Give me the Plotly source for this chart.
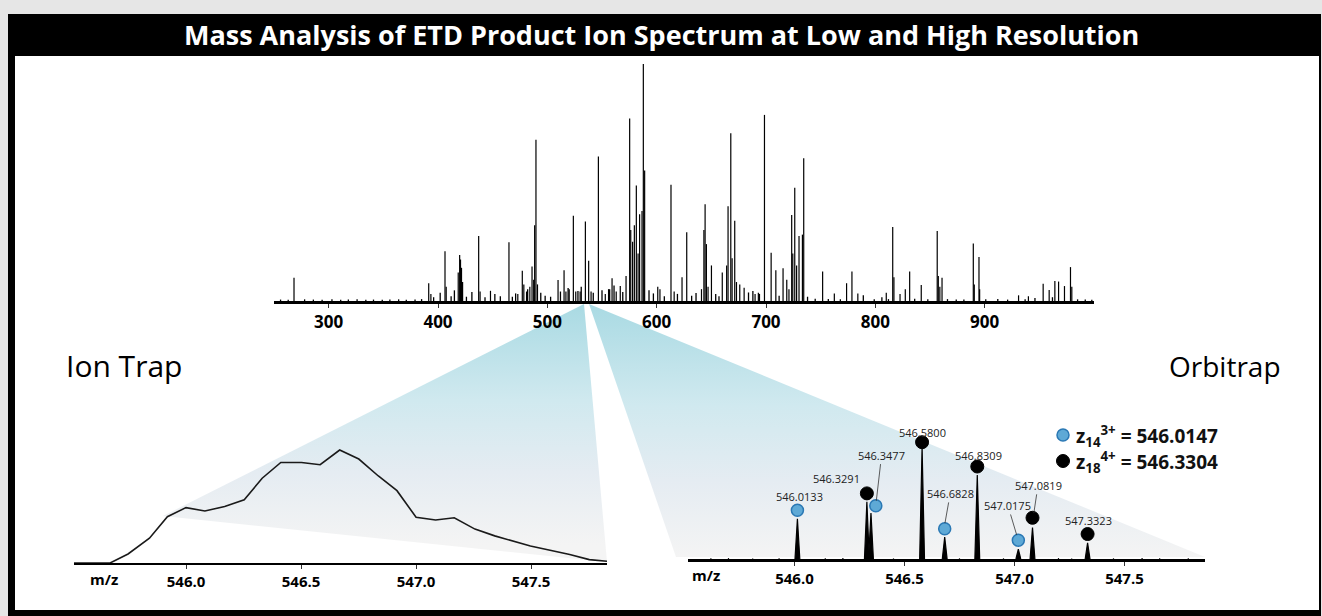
import plotly.graph_objects as go

W, H = 1322, 616

# ---------------- data ----------------
# full-scan ETD spectrum (top): m/z and relative intensity (%)
top_mz = [268.3, 391.5, 393.5, 406.4, 407.5, 418.5, 419.8, 420.6, 421.5, 422.5,
          437.2, 438.5, 448.0, 464.9, 473.0, 477.1, 478.5, 481.0, 484.0, 486.0,
          487.5, 488.4, 489.6, 491.0, 509.8, 515.3, 517.0, 520.0, 523.8, 526.0,
          530.0, 534.8, 537.8, 540.0, 546.7, 553.0, 556.0, 559.2, 563.0, 566.7,
          572.0, 575.3, 576.3, 578.0, 579.6, 581.4, 583.0, 584.4, 586.6, 587.8,
          589.0, 601.0, 603.0, 613.1, 616.0, 623.2, 627.5, 641.0, 643.2, 644.3,
          645.5, 647.0, 650.1, 660.0, 664.0, 665.3, 667.8, 669.0, 671.4, 673.0,
          676.0, 680.0, 690.0, 693.0, 698.6, 704.7, 709.0, 715.6, 719.0, 721.0,
          723.5, 724.5, 726.3, 728.0, 730.2, 733.3, 734.5, 751.8, 762.5, 773.7,
          778.6, 784.0, 810.0, 815.9, 817.0, 822.6, 827.4, 831.4, 842.0, 856.6,
          857.6, 859.0, 861.0, 889.6, 890.5, 894.8, 895.4, 931.0, 940.0, 953.5,
          959.0, 964.2, 967.6, 973.0, 978.5, 979.7]
top_int = [9.8, 7.5, 3.0, 21.0, 6.0, 12.0, 19.4, 17.5, 14.0, 8.0,
           27.4, 4.0, 4.3, 24.8, 3.0, 12.8, 7.0, 4.0, 6.0, 14.5,
           9.0, 32.0, 68.0, 7.0, 8.9, 13.0, 4.0, 5.0, 36.0, 4.0,
           4.0, 33.5, 17.0, 4.0, 61.0, 3.0, 5.0, 9.6, 4.0, 6.3,
           10.5, 77.0, 30.0, 25.0, 32.0, 48.7, 20.0, 36.6, 38.0, 100.0,
           55.0, 6.0, 5.0, 49.0, 4.0, 10.0, 29.0, 5.0, 30.0, 40.8,
           24.0, 6.0, 15.0, 12.0, 15.0, 40.0, 70.8, 18.0, 33.8, 8.0,
           7.0, 5.6, 3.0, 3.5, 78.5, 20.4, 13.0, 13.8, 9.0, 5.0,
           36.3, 20.0, 47.8, 15.0, 27.4, 28.0, 60.2, 12.4, 3.2, 7.5,
           12.4, 3.2, 3.5, 31.2, 10.0, 3.0, 5.0, 12.4, 6.8, 29.5,
           10.5, 6.0, 9.8, 24.3, 7.0, 18.6, 5.0, 2.4, 2.0, 7.3,
           4.6, 8.4, 8.2, 6.3, 14.3, 6.0]
# low-level baseline peaks of the full scan
noise_mz = [256, 263, 278, 286, 294, 303, 311, 318, 326, 334,
            341, 349, 356, 364, 371, 379, 385, 396, 402, 412,
            415, 426, 431, 443, 452, 457, 468, 471, 482, 494,
            498, 503, 512, 519, 528, 531, 542, 550, 557, 561,
            569, 593, 597, 607, 619, 632, 636, 654, 657, 684,
            688, 694, 712, 738, 745, 757, 768, 789, 799, 806,
            812, 836, 848, 866, 874, 881, 901, 912, 921, 937,
            946, 962, 985, 992, 998]
noise_int = [0.6, 0.5, 0.7, 0.6, 0.5, 0.7, 0.5, 0.6, 0.7, 0.5,
             0.6, 0.5, 0.6, 0.7, 0.5, 0.6, 0.8, 1.6, 3.5, 2.0,
             4.5, 1.8, 3.8, 1.6, 3.0, 2.0, 1.8, 3.2, 5.0, 3.5,
             2.2, 1.8, 4.0, 5.5, 4.2, 6.0, 3.5, 4.5, 5.0, 6.5,
             3.8, 4.5, 3.2, 2.0, 3.0, 2.2, 3.4, 3.0, 2.0, 3.6,
             4.2, 3.0, 2.2, 1.8, 1.0, 0.8, 0.7, 2.4, 0.7, 1.6,
             0.8, 1.0, 0.7, 0.8, 0.6, 0.6, 0.7, 0.8, 0.6, 0.7,
             1.3, 1.6, 0.7, 0.6, 0.5]
top_ticks = [300, 400, 500, 600, 700, 800, 900]

# ion trap (low resolution) profile
it_mz = [545.513, 545.670, 545.748, 545.841, 545.919, 546.000, 546.082, 546.168,
         546.253, 546.331, 546.412, 546.502, 546.583, 546.668, 546.751, 546.836,
         546.917, 547.000, 547.085, 547.166, 547.256, 547.342, 547.497, 547.668,
         547.753, 547.830]
it_int = [0, 0, 8, 22, 41, 49, 46, 50,
          56, 75, 89, 89, 87, 100, 92, 77,
          64, 40.5, 38, 40, 30, 24, 15, 7.5,
          3, 1.5]

# orbitrap (high resolution) centroids
orbi_mz = [546.0133, 546.3291, 546.3477, 546.5800, 546.6828, 546.8309,
           547.0175, 547.0819, 547.3323]
orbi_int = [36, 51, 41, 100, 19.5, 75, 8.7, 28, 14.5]
orbi_series = ["z14", "z18", "z14", "z18", "z14", "z18", "z14", "z18", "z18"]
orbi_marker_mz = [546.0133, 546.3291, 546.3697, 546.5800, 546.6828, 546.8309,
                  547.0175, 547.0819, 547.3323]
orbi_marker_y = [43.5, 58.6, 47.5, 104.3, 27, 82.6, 16.8, 36.8, 22.3]
orbi_label_x = [546.023, 546.190, 546.396, 546.580, 546.708, 546.836,
                546.970, 547.107, 547.336]
orbi_label_y = [55.7, 71.6, 92.8, 113.3, 58.6, 92.8, 47.8, 65.8, 34.8]
orbi_leader_to = [None, None, (546.372, 52), None, (546.684, 32), None,
                  (547.010, 21.5), (547.088, 41), None]
orbi_noise_mz = [545.62, 545.70, 545.81, 545.93, 546.14, 546.22, 546.45,
                 546.75, 546.95, 547.20, 547.26, 547.45, 547.58, 547.66, 547.79]
orbi_noise_int = [0.6, 0.8, 0.5, 0.7, 0.6, 0.8, 0.5, 0.6, 0.6, 0.8, 0.5, 0.6,
                  0.8, 0.6, 0.7]
bottom_ticks = [546.0, 546.5, 547.0, 547.5]

legend_items = [("z", "14", "3+", "546.0147", "z14"), ("z", "18", "4+", "546.3304", "z18")]

# ---------------- styling ----------------
FONT = "Open Sans"
BLUE = "#5ea9d6"
BLUE_EDGE = "#2a78b4"
series_style = {"z14": dict(color=BLUE, line=dict(color=BLUE_EDGE, width=1.5), size=12),
                "z18": dict(color="black", line=dict(color="black", width=1), size=13)}


def px(x):
    return x / W


def py(y):
    return 1 - y / H


fig = go.Figure()


# overlay canvas (pixel coordinates, y up) for the zoom fans
def fan(points, top_y, bottom_y):
    xs = [p[0] for p in points] + [points[0][0]]
    ys = [H - p[1] for p in points] + [H - points[0][1]]
    return go.Scatter(x=xs, y=ys, mode="lines", line=dict(width=0), fill="toself",
                      fillgradient=dict(type="vertical", start=H - bottom_y, stop=H - top_y,
                                        colorscale=[[0, "#f4f4f4"], [0.3, "#e5ecf2"],
                                                    [0.6, "#d0e9ef"], [1, "#a9dae3"]]),
                      hoverinfo="skip", showlegend=False, xaxis="x", yaxis="y")


fig.add_trace(fan([(584, 304), (163, 516), (607, 562)], 304, 545))
fig.add_trace(fan([(589, 304), (1205, 557), (676, 557)], 304, 557))


# top spectrum sticks
def sticks(mz, inten):
    xs, ys = [], []
    for m, v in zip(mz, inten):
        xs += [m, m, None]
        ys += [0, v, None]
    return xs, ys


nx, ny = sticks(noise_mz, noise_int)
fig.add_trace(go.Scatter(x=nx, y=ny, mode="lines", line=dict(color="black", width=1.3),
                         xaxis="x2", yaxis="y2", showlegend=False, hoverinfo="skip"))
sx, sy = sticks(top_mz, top_int)
fig.add_trace(go.Scatter(x=sx, y=sy, mode="lines", line=dict(color="black", width=1.2),
                         xaxis="x2", yaxis="y2", showlegend=False))

# ion trap profile
fig.add_trace(go.Scatter(x=it_mz, y=it_int, mode="lines", line=dict(color="#1a1a1a", width=1.6),
                         xaxis="x3", yaxis="y3", showlegend=False))

# orbitrap peaks (narrow profiles)
HW = 0.011
ox, oy = [], []
for m, v in zip(orbi_mz, orbi_int):
    ox += [m - HW, m, m + HW, None]
    oy += [0, v, 0, None]
fig.add_trace(go.Scatter(x=ox, y=oy, mode="lines", line=dict(color="black", width=1.2),
                         fill="toself", fillcolor="black",
                         xaxis="x4", yaxis="y4", showlegend=False))
nx2, ny2 = sticks(orbi_noise_mz, orbi_noise_int)
fig.add_trace(go.Scatter(x=nx2, y=ny2, mode="lines", line=dict(color="black", width=1.2),
                         xaxis="x4", yaxis="y4", showlegend=False, hoverinfo="skip"))

for s in ["z14", "z18"]:
    idx = [i for i, t in enumerate(orbi_series) if t == s]
    fig.add_trace(go.Scatter(x=[orbi_marker_mz[i] for i in idx], y=[orbi_marker_y[i] for i in idx],
                             mode="markers", marker=series_style[s],
                             xaxis="x4", yaxis="y4", showlegend=False))

# legend markers on canvas
for k, item in enumerate(legend_items):
    fig.add_trace(go.Scatter(x=[1063], y=[H - (435 + 26 * k)], mode="markers",
                             marker=series_style[item[4]], xaxis="x", yaxis="y",
                             showlegend=False, hoverinfo="skip"))

annotations = []
for i, m in enumerate(orbi_mz):
    lab = f"{m:.4f}"
    tgt = orbi_leader_to[i]
    if tgt is None:
        annotations.append(dict(x=orbi_label_x[i], y=orbi_label_y[i], xref="x4", yref="y4",
                                text=lab, showarrow=False, xanchor="center", yanchor="middle",
                                font=dict(family=FONT, size=11, color="#222")))
    else:
        annotations.append(dict(x=tgt[0], y=tgt[1], xref="x4", yref="y4",
                                ax=orbi_label_x[i], ay=orbi_label_y[i], axref="x4", ayref="y4",
                                text=lab, showarrow=True, arrowhead=0, arrowwidth=0.8,
                                arrowcolor="#333", standoff=0,
                                font=dict(family=FONT, size=11, color="#222")))

for k, (z, sub, sup, val, s) in enumerate(legend_items):
    annotations.append(dict(x=px(1074), y=py(436 + 26 * k), xref="paper", yref="paper",
                            xanchor="left", yanchor="middle", showarrow=False,
                            text=f"<b>{z}<sub>{sub}</sub><sup>{sup}</sup> = {val}</b>",
                            font=dict(family=FONT, size=19, color="#111")))


def centered(xp, yp, text, size, color="black"):
    return dict(x=px(xp), y=py(yp), xref="paper", yref="paper", showarrow=False,
                xanchor="center", yanchor="middle", text=text,
                font=dict(family=FONT, size=size, color=color))


annotations += [
    centered(661, 35, "<b>Mass Analysis of ETD Product Ion Spectrum at Low and High Resolution</b>",
             27, "white"),
    centered(124, 366, "Ion Trap", 30),
    centered(1225, 366, "Orbitrap", 28),
    centered(104, 579, "<b>m/z</b>", 15),
    centered(706, 575, "<b>m/z</b>", 15),
]

tickfont = dict(family=FONT, size=15, color="black", weight="bold")
common_x = dict(showgrid=False, zeroline=False, showline=True, linecolor="black",
                ticks="outside", ticklen=4, tickwidth=1.2, tickcolor="#333",
                fixedrange=True)
common_y = dict(visible=False, showgrid=False, zeroline=False, fixedrange=True)

fig.update_layout(
    width=W, height=H, autosize=False,
    margin=dict(l=0, r=0, t=0, b=0, pad=0),
    paper_bgcolor="#e6e6e6", plot_bgcolor="rgba(0,0,0,0)",
    showlegend=False,
    xaxis=dict(domain=[0, 1], range=[0, W], visible=False, fixedrange=True),
    yaxis=dict(domain=[0, 1], range=[0, H], visible=False, fixedrange=True),
    xaxis2=dict(domain=[px(274), px(1094)], range=[250, 1000], anchor="y2",
                tickvals=top_ticks, ticktext=[str(t) for t in top_ticks],
                linewidth=3, tickfont=dict(tickfont, size=17), **common_x),
    yaxis2=dict(domain=[py(301), py(58)], range=[0, 102.5], anchor="x2", **common_y),
    xaxis3=dict(domain=[px(74), px(607)], range=[545.513, 547.83], anchor="y3",
                tickvals=bottom_ticks, ticktext=[f"{t:.1f}" for t in bottom_ticks],
                linewidth=2, tickfont=tickfont, **common_x),
    yaxis3=dict(domain=[py(563), py(430)], range=[0, 117.7], anchor="x3", **common_y),
    xaxis4=dict(domain=[px(688), px(1205)], range=[545.516, 547.866], anchor="y4",
                tickvals=bottom_ticks, ticktext=[f"{t:.1f}" for t in bottom_ticks],
                linewidth=2.5, tickfont=tickfont, **common_x),
    yaxis4=dict(domain=[py(559), py(400)], range=[0, 142], anchor="x4", **common_y),
    annotations=annotations,
    shapes=[
        dict(type="rect", xref="paper", yref="paper", x0=px(8), x1=px(1321), y0=py(616), y1=py(14),
             fillcolor="black", line=dict(width=0), layer="below"),
        dict(type="rect", xref="paper", yref="paper", x0=px(15), x1=px(1319), y0=py(610), y1=py(56),
             fillcolor="white", line=dict(width=0), layer="below"),
    ],
)

fig.write_html("out.html")
